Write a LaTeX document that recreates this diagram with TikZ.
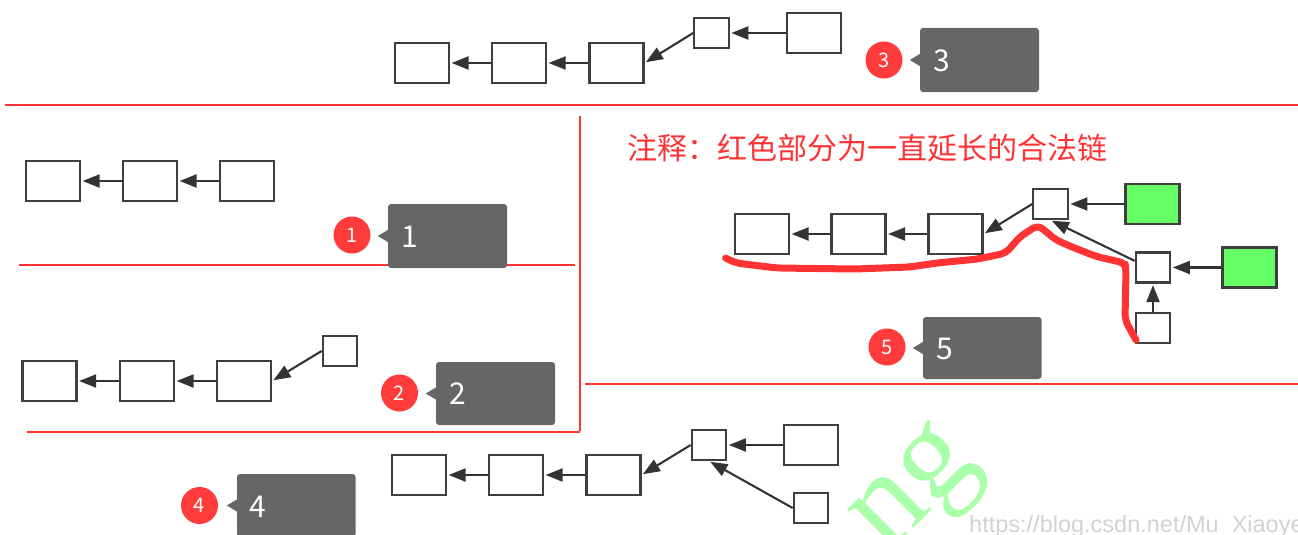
\documentclass[tikz,border=0pt]{standalone}
\usepackage{fontspec}
\setmainfont{Noto Sans CJK SC}
\newfontfamily\wmfont{Liberation Serif}
\newfontfamily\urlfont{Liberation Sans}
\usetikzlibrary{arrows.meta}
\definecolor{boxline}{HTML}{3F3F3F}
\definecolor{arrcol}{HTML}{333333}
\definecolor{redline}{HTML}{FF3333}
\definecolor{badgered}{HTML}{FF3B3B}
\definecolor{tipgray}{HTML}{666666}
\definecolor{leafgreen}{HTML}{66FF66}
\definecolor{wmgreen}{HTML}{AAFFAA}
\definecolor{urlgray}{HTML}{D2D2D2}
\begin{document}
\begin{tikzpicture}[x=1pt,y=-1pt,
 blk/.style={draw=boxline, line width=2.2pt, fill=white, inner sep=0pt, minimum width=54pt, minimum height=40pt},
 sblk/.style={blk, minimum width=34.5pt, minimum height=30pt},
 gblk/.style={blk, fill=leafgreen},
 arr/.style={draw=arrcol, line width=2.1pt, -{Triangle[length=17pt,width=13pt]}, shorten >=1.5pt},
 sep/.style={draw=redline, line width=2.4pt},
 badge/.style={circle, fill=badgered, text=white, inner sep=0pt, minimum size=37pt, font=\fontsize{20}{20}\selectfont},
 tipbox/.style={fill=tipgray, rounded corners=3pt, inner sep=0pt},
 tiptxt/.style={text=white, anchor=west, inner sep=0pt, font=\fontsize{30}{30}\selectfont},
 chain/.style={draw=redline, line width=7pt, line cap=round, line join=round},
]
\useasboundingbox (0,0) rectangle (1298,535);
\clip (0,0) rectangle (1298,535);

% separators
\draw[sep] (5,105) -- (1298,105);
\draw[sep] (19,265) -- (575,265);
\draw[sep] (580,116) -- (580,431);
\draw[sep] (27,432) -- (580,432);
\draw[sep] (585,384) -- (1298,384);

% section 3
\node[blk] (s3a) at (422,63) {};
\node[blk] (s3b) at (519,63) {};
\node[blk] (s3c) at (616.5,63) {};
\node[sblk] (s3d) at (711.5,33) {};
\node[blk] (s3e) at (814,33) {};
\draw[arr] (s3b) -- (s3a);
\draw[arr] (s3c) -- (s3b);
\draw[arr] (s3d.west) -- (s3c.east);
\draw[arr] (s3e) -- (s3d);
\node[badge] (b3) at (884,60) {3};
\node[tipbox, minimum width=119pt, minimum height=64pt] (t3) at (979.5,60) {};
\fill[tipgray] (t3.west) ++(-10,0) -- ++(10,-6) -- ++(0,12) -- cycle;
\node[tiptxt] (t3txt) at (933,61) {3};

% section 1
\node[blk] (s1a) at (53,181) {};
\node[blk] (s1b) at (150,181) {};
\node[blk] (s1c) at (247,181) {};
\draw[arr] (s1b) -- (s1a);
\draw[arr] (s1c) -- (s1b);
\node[badge] (b1) at (352,235) {1};
\node[tipbox, minimum width=119pt, minimum height=64pt] (t1) at (447.5,236) {};
\fill[tipgray] (t1.west) ++(-10,0) -- ++(10,-6) -- ++(0,12) -- cycle;
\node[tiptxt] (t1txt) at (401,237) {1};

% section 2
\node[blk] (s2a) at (49.5,381) {};
\node[blk] (s2b) at (147,381) {};
\node[blk] (s2c) at (244,381) {};
\node[sblk] (s2d) at (340,351) {};
\draw[arr] (s2b) -- (s2a);
\draw[arr] (s2c) -- (s2b);
\draw[arr] (s2d.west) -- (s2c.east);
\node[badge] (b2) at (399.5,393) {2};
\node[tipbox, minimum width=119pt, minimum height=63pt] (t2) at (495.5,393.5) {};
\fill[tipgray] (t2.west) ++(-10,0) -- ++(10,-6) -- ++(0,12) -- cycle;
\node[tiptxt] (t2txt) at (449,394) {2};

% section 5
\node[anchor=west, inner sep=0pt, text=redline, font=\fontsize{30}{30}\selectfont] (note) at (627,148) {注释：红色部分为一直延长的合法链};
\node[blk] (s5a) at (762,234) {};
\node[blk] (s5b) at (858.5,234) {};
\node[blk] (s5c) at (955.5,234) {};
\node[sblk] (s5f) at (1050.5,204) {};
\node[gblk] (s5g) at (1152.5,204) {};
\node[sblk] (s5h) at (1153,267.5) {};
\node[gblk] (s5i) at (1249.5,267.5) {};
\node[sblk] (s5j) at (1153,328) {};
\draw[arr] (s5b) -- (s5a);
\draw[arr] (s5c) -- (s5b);
\draw[arr] (s5f.west) -- (s5c.east);
\draw[arr] (s5g) -- (s5f);
\draw[arr] (s5h.160) -- (s5f.south);
\draw[arr] (s5i) -- (s5h);
\draw[arr] (s5j) -- (s5h);
\node[badge] (b5) at (887,347) {5};
\node[tipbox, minimum width=118.5pt, minimum height=62pt] (t5) at (982.25,348) {};
\fill[tipgray] (t5.west) ++(-10,0) -- ++(10,-6) -- ++(0,12) -- cycle;
\node[tiptxt] (t5txt) at (936,349) {5};
\draw[chain, rounded corners=6pt] (725.6,258) -- (735.7,263) -- (777,268) -- (854.7,269) -- (909.7,267) -- (937,263) -- (978,259) -- (1006,253) -- (1019.6,237) -- (1038,225) -- (1056,240) -- (1074.5,248) -- (1097,256.7) -- (1125,263) -- (1126,270) -- (1125,320) -- (1136,340);

% section 4
\node[blk] (s4a) at (419,475) {};
\node[blk] (s4b) at (516,475) {};
\node[blk] (s4c) at (613.5,475) {};
\node[sblk] (s4k) at (709,445) {};
\node[blk] (s4l) at (811,445) {};
\node[sblk] (s4m) at (811,508) {};
\draw[arr] (s4b) -- (s4a);
\draw[arr] (s4c) -- (s4b);
\draw[arr] (s4k.west) -- (s4c.east);
\draw[arr] (s4l) -- (s4k);
\draw[arr] (s4m.west) -- (s4k.south);
\node[badge] (b4) at (199.5,505.5) {4};
\node[tipbox, minimum width=118.5pt, minimum height=63pt] (t4) at (296.25,505.5) {};
\fill[tipgray] (t4.west) ++(-10,0) -- ++(10,-6) -- ++(0,12) -- cycle;
\node[tiptxt] (t4txt) at (249,507) {4};

% watermark
\node[anchor=base west, rotate=45, inner sep=0pt, text=wmgreen, font=\wmfont\fontsize{130}{130}\selectfont] (wm) at (887.5,555) {ng};
\node[anchor=base west, inner sep=0pt, text=urlgray, font=\urlfont\fontsize{23.5}{23.5}\selectfont] (url) at (969,532) {https://blog.csdn.net/Mu\_Xiaoye};
\end{tikzpicture}
\end{document}
